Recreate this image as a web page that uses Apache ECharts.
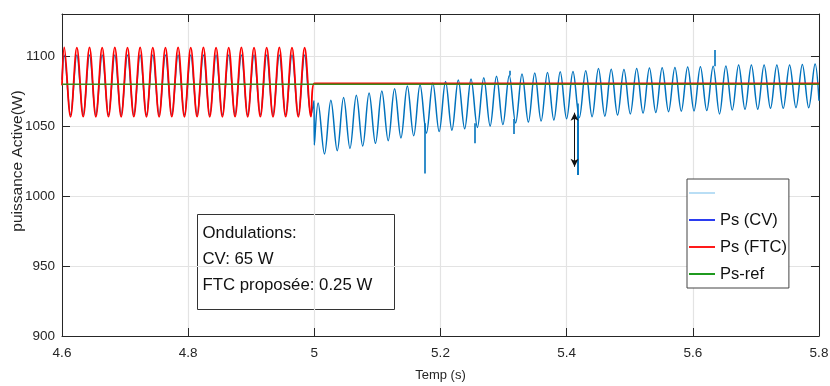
<!DOCTYPE html>
<html><head><meta charset="utf-8">
<script src="https://cdn.jsdelivr.net/npm/echarts@6/dist/echarts.min.js"></script>
<style>html,body{margin:0;padding:0;background:#fff}#c{width:830px;height:386px}</style>
</head><body><div id="c"></div>
<script>
// ---- data ----
const xTicks = [4.6, 4.8, 5.0, 5.2, 5.4, 5.6, 5.8];
const yTicks = [900, 950, 1000, 1050, 1100];
const refValue = 1079.8;          // Ps-ref
const ftcHold = 1080.5;           // Ps (FTC) after 5 s
// 4.6 s .. 5.0 s : extrema every half period
const preStart = 4.6035, preHalf = 0.01003;
const redPeaks = [1106.2,1106.0,1106.1,1106.0,1106.2,1106.0,1106.1,1106.0,1106.0,1106.1,1106.0,1106.1,1106.0,1106.0,1106.1,1106.0,1106.0,1106.1,1106.0,1105.9];
const redTroughs = [1056.6,1056.7,1056.6,1056.7,1056.6,1056.7,1056.6,1056.6,1056.7,1056.6,1056.7,1056.6,1056.6,1056.7,1056.6,1056.7,1056.6,1056.7,1056.6,1056.7];
const bluePrePeaks = [1100.6,1100.8,1100.7,1100.8,1100.7,1100.8,1100.7,1100.7,1100.8,1100.7,1100.8,1100.7,1100.7,1100.8,1100.7,1100.8,1100.7,1100.7,1100.8,1100.7];
const bluePreTroughs = [1057.9,1058.0,1057.9,1058.0,1057.9,1058.0,1057.9,1057.9,1058.0,1057.9,1058.0,1057.9,1057.9,1058.0,1057.9,1058.0,1057.9,1058.0,1057.9,1058.0];
// 5.0 s .. 5.8 s : Ps (CV) extrema
const postStart = 5.006, postHalf = 0.0101;
const bluePostPeaks = [1066.5,1068.4,1070.3,1072.0,1073.6,1075.0,1076.6,1078.6,1079.4,1080.8,1081.8,1082.8,1083.6,1084.5,1085.5,1086.0,1087.1,1087.9,1088.3,1088.8,1088.9,1089.4,1091.0,1090.5,1090.3,1091.0,1091.5,1091.6,1091.7,1092.2,1092.4,1092.6,1092.9,1093.5,1093.5,1093.6,1093.6,1093.6,1094.0,1094.3];
const bluePostTroughs = [1030.0,1032.4,1034.0,1035.7,1037.6,1039.5,1041.5,1043.0,1045.0,1046.0,1047.0,1048.0,1049.0,1050.0,1051.0,1052.2,1052.8,1053.5,1054.3,1055.2,1056.0,1056.6,1057.0,1057.8,1058.6,1059.2,1059.6,1060.2,1060.6,1060.8,1061.0,1058.6,1061.4,1061.9,1062.0,1062.6,1062.6,1063.1,1063.1];
// transients on Ps (CV)
const spikeT    = [5.1749, 5.2550, 5.3160, 5.3096, 5.4174, 5.4182, 5.6340];
const spikeFrom = [1052.0, 1052.0, 1055.0, 1086.0, 1058.0, 1066.0, 1092.6];
const spikeTo   = [1016.0, 1037.6, 1044.3, 1089.5, 1015.0, 1015.0, 1104.3];
// arrow annotation
const arrowT = 5.4125, arrowTop = 1059.5, arrowBottom = 1020.9;
const noteLines = ['Ondulations:', 'CV: 65 W', 'FTC proposée: 0.25 W'];

// ---- build series ----
const blueData = [[4.6, 1083]];
for (let k = 0; k < bluePrePeaks.length; k++) {
  blueData.push([preStart + 2*k*preHalf, bluePrePeaks[k]]);
  blueData.push([preStart + (2*k+1)*preHalf, bluePreTroughs[k]]);
}
blueData.push([4.9995, 1068]);
blueData.push([5.0, 1036.5]);
for (let k = 0; k < bluePostPeaks.length; k++) {
  blueData.push([postStart + 2*k*postHalf, bluePostPeaks[k]]);
  if (k < bluePostTroughs.length) blueData.push([postStart + (2*k+1)*postHalf, bluePostTroughs[k]]);
}
blueData.push([5.8, 1068]);

const redData = [[4.6, 1079]];
for (let k = 0; k < redPeaks.length; k++) {
  redData.push([preStart + 2*k*preHalf, redPeaks[k]]);
  redData.push([preStart + (2*k+1)*preHalf, redTroughs[k]]);
}
redData.push([5.0, ftcHold]);
redData.push([5.8, ftcHold]);

const greenData = [[4.6, refValue], [5.8, refValue]];

const spikeLines = spikeT.map((t, i) => [
  {coord: [t, spikeFrom[i]], symbol: 'none'},
  {coord: [t, spikeTo[i]], symbol: 'none'}
]);

const FN = "'Liberation Sans', Arial, sans-serif";
const AX = '#262626';

const chart = echarts.init(document.getElementById('c'), null, {renderer: 'canvas'});
const axisCommon = {
  axisLine: {show: true, lineStyle: {color: AX, width: 1}},
  axisTick: {show: true, inside: true, length: 8, lineStyle: {color: AX}},
};
chart.setOption({
  animation: false,
  backgroundColor: '#fff',
  grid: {left: 62, right: 11, top: 14, bottom: 50, containLabel: false, outerBoundsMode: 'none'},
  xAxis: [{
    type: 'value', min: 4.6, max: 5.8, interval: 0.2,
    ...axisCommon,
    axisLabel: {color: AX, fontFamily: FN, fontSize: 13.5, margin: 10, formatter: v => String(Math.round(v * 10) / 10)},
    splitLine: {show: true, lineStyle: {color: '#e3e3e3', width: 1.2}},
    name: 'Temp (s)', nameLocation: 'middle', nameGap: 33, nameMoveOverlap: false,
    nameTextStyle: {color: AX, fontFamily: FN, fontSize: 13}
  }, {
    type: 'value', position: 'top', min: 4.6, max: 5.8, interval: 0.2,
    ...axisCommon, axisLabel: {show: false}, splitLine: {show: false}
  }],
  yAxis: [{
    type: 'value', min: 900, max: 1130, interval: 50,
    ...axisCommon,
    axisLabel: {color: AX, fontFamily: FN, fontSize: 13.5, margin: 7, showMaxLabel: false, formatter: v => String(v)},
    splitLine: {show: true, lineStyle: {color: '#e3e3e3', width: 1.2}},
    name: 'puissance Active(W)', nameLocation: 'middle', nameGap: 44, nameRotate: 90, nameMoveOverlap: false,
    nameTextStyle: {color: AX, fontFamily: FN, fontSize: 15.5, verticalAlign: 'middle', padding: [0, 0, 0, 28]}
  }, {
    type: 'value', position: 'right', min: 900, max: 1130, interval: 50,
    ...axisCommon, axisLabel: {show: false}, splitLine: {show: false}
  }],
  legend: {
    orient: 'vertical', left: 687, top: 179,
    backgroundColor: '#fff', borderColor: '#444', borderWidth: 1, borderRadius: 0,
    padding: [5, 2, 5, 2], itemGap: 9, itemWidth: 26, itemHeight: 2,
    textStyle: {color: '#111', fontFamily: FN, fontSize: 16.5, lineHeight: 18},
    data: [
      {name: ' ', icon: 'rect', itemStyle: {color: '#b9def5'}},
      {name: 'Ps (CV)', icon: 'rect', itemStyle: {color: '#2b3df0'}},
      {name: 'Ps (FTC)', icon: 'rect', itemStyle: {color: '#ff1a1a'}},
      {name: 'Ps-ref', icon: 'rect', itemStyle: {color: '#1f9a1f'}}
    ],
    selectedMode: false
  },
  series: [
    {name: ' ', type: 'line', data: [], symbol: 'none', color: '#b9def5'},
    {
      name: 'Ps (CV)', type: 'line', data: blueData, symbol: 'none', smooth: 0.36,
      color: '#0072BD', lineStyle: {width: 1.5, color: '#0072BD'}, z: 2,
      markLine: {silent: true, symbol: 'none', label: {show: false},
        lineStyle: {type: 'solid', color: '#0072BD', width: 1.6}, data: spikeLines}
    },
    {
      name: 'Ps (FTC)', type: 'line', data: redData, symbol: 'none', smooth: 0.36,
      color: '#ff0000', lineStyle: {width: 1.8, color: '#ff0000'}, z: 3
    },
    {
      name: 'Ps-ref', type: 'line', data: greenData, symbol: 'none',
      color: '#3d8a1c', lineStyle: {width: 1.6, color: '#3d8a1c'}, z: 4,
      markLine: {silent: true, label: {show: false}, symbol: ['arrow', 'arrow'], symbolSize: [6, 8],
        lineStyle: {type: 'solid', color: '#111', width: 1},
        data: [[{coord: [arrowT, arrowTop]}, {coord: [arrowT, arrowBottom]}]]}
    }
  ],
  graphic: [{
    type: 'group', left: 195, top: 212,
    children: [
      {type: 'rect', shape: {x: 0, y: 0, width: 197, height: 95}, style: {fill: 'none', stroke: '#333', lineWidth: 1}},
      {type: 'text', x: 5, y: 19, style: {text: noteLines[0], font: "16.8px " + FN, fill: '#111', textVerticalAlign: 'middle'}},
      {type: 'text', x: 5, y: 45, style: {text: noteLines[1], font: "16.8px " + FN, fill: '#111', textVerticalAlign: 'middle'}},
      {type: 'text', x: 5, y: 71, style: {text: noteLines[2], font: "16.8px " + FN, fill: '#111', textVerticalAlign: 'middle'}}
    ]
  }]
});
</script></body></html>
